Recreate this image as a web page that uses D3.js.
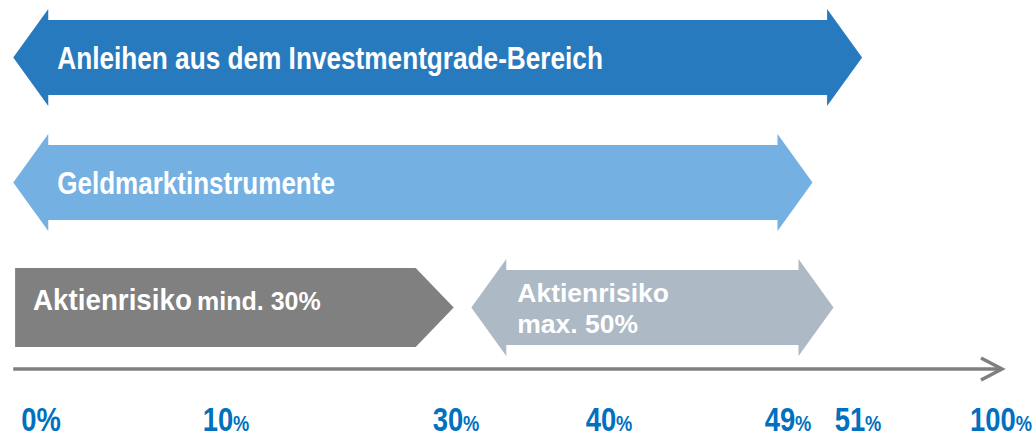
<!DOCTYPE html>
<html lang="en">
<head>
<meta charset="UTF-8">
<title>Anlagegrenzen</title>
<script src="https://d3js.org/d3.v7.min.js"></script>
<style>
  body { margin: 0; background: #fff; }
  svg { display: block; }
  text { font-family: "Liberation Sans", Arial, sans-serif; font-weight: bold; }
</style>
</head>
<body>
<svg id="chart" width="1033" height="434"></svg>
<script>
// tick values on the bottom axis
const tickValues = [0, 10, 30, 40, 49, 51, 100];
const tickSmallPct = [false, true, true, true, true, true, true]; // "%" set smaller except at 0

// bands: label, start / end (percent, read at arrow tips), shape type
const bandNames = ["Anleihen aus dem Investmentgrade-Bereich", "Geldmarktinstrumente", "Aktienrisiko mind. 30%", "Aktienrisiko max. 50%"];
const bandStart = [-1.5, -1.5, -1.4, 31.0];
const bandEnd   = [52.4, 49.7, 29.8, 50.3];
const bandRow   = [0, 1, 2, 2];
const bandShape = ["double", "double", "pentagon", "double"];
const bandColor = ["#287abe", "#75b0e3", "#808080", "#adb9c5"];

const svg = d3.select('#chart');

// piecewise x scale (ticks are not evenly spaced in the picture)
const x = d3.scaleLinear()
    .domain(tickValues)
    .range([41, 226, 456, 609, 788, 858, 1001]);

const y = d3.scalePoint()
    .domain([0, 1, 2])
    .range([57.5, 307.5]);

function doubleArrow(x0, x1, cy, h, d, o) {
    const p = d3.path();
    p.moveTo(x0, cy);
    p.lineTo(x0 + d, cy - h - o);
    p.lineTo(x0 + d, cy - h);
    p.lineTo(x1 - d, cy - h);
    p.lineTo(x1 - d, cy - h - o);
    p.lineTo(x1, cy);
    p.lineTo(x1 - d, cy + h + o);
    p.lineTo(x1 - d, cy + h);
    p.lineTo(x0 + d, cy + h);
    p.lineTo(x0 + d, cy + h + o);
    p.closePath();
    return p.toString();
}

function pentagon(x0, x1, cy, h, d) {
    const p = d3.path();
    p.moveTo(x0, cy - h);
    p.lineTo(x1 - d, cy - h);
    p.lineTo(x1, cy);
    p.lineTo(x1 - d, cy + h);
    p.lineTo(x0, cy + h);
    p.closePath();
    return p.toString();
}

// text that is a bit condensed, like the narrow font of the original
function condensed(parent, tx, ty, sx) {
    return parent.append('g')
        .attr('transform', `translate(${tx},${ty}) scale(${sx},1)`)
        .append('text');
}

const bands = bandNames.map((name, i) => ({
    name, start: bandStart[i], end: bandEnd[i], row: bandRow[i], shape: bandShape[i], color: bandColor[i]
}));

svg.selectAll('path.band')
    .data(bands)
    .join('path')
    .attr('class', 'band')
    .attr('fill', d => d.color)
    .attr('d', d => d.shape === 'double'
        ? doubleArrow(x(d.start), x(d.end), y(d.row), 37.5, 35, 11)
        : pentagon(x(d.start), x(d.end), y(d.row), 39.5, 38));

// labels inside the arrows
const lbl = svg.append('g').attr('fill', '#fff');

condensed(lbl, x(bands[0].start) + 44, y(0) + 11, 0.845)
    .attr('font-size', 31)
    .text(bands[0].name);

condensed(lbl, x(bands[1].start) + 44, y(1) + 11.5, 0.84)
    .attr('font-size', 31)
    .text(bands[1].name);

condensed(lbl, x(bands[2].start) + 18, y(2) + 2.5, 0.925)
    .attr('font-size', 30)
    .text('Aktienrisiko');
lbl.append('text')
    .attr('x', x(bands[2].start) + 182)
    .attr('y', y(2) + 2.5)
    .attr('font-size', 25)
    .text('mind. 30%');

const t4 = lbl.append('text')
    .attr('font-size', 26.5);
t4.append('tspan').attr('x', x(bands[3].start) + 46).attr('y', y(2) - 5.5).text('Aktienrisiko');
t4.append('tspan').attr('x', x(bands[3].start) + 46).attr('y', y(2) + 25.5).text('max. 50%');

// axis line with open arrow head
const axisY = 369;
svg.append('line')
    .attr('x1', x(bandStart[0])).attr('x2', x(100))
    .attr('y1', axisY).attr('y2', axisY)
    .attr('stroke', '#7f7f7f').attr('stroke-width', 3.5);
svg.append('polyline')
    .attr('points', [[x(100) - 20, axisY - 11], [x(100) + 1, axisY], [x(100) - 20, axisY + 11]].join(' '))
    .attr('fill', 'none').attr('stroke', '#7f7f7f').attr('stroke-width', 3.5);

// tick labels
const ticks = svg.selectAll('g.tick')
    .data(tickValues)
    .join('g')
    .attr('class', 'tick')
    .attr('transform', d => `translate(${x(d)},431) scale(0.83,1)`)
    .append('text')
    .attr('text-anchor', 'middle')
    .attr('fill', '#0070c0')
    .attr('font-size', 33);
ticks.append('tspan').text(d => d);
ticks.append('tspan')
    .attr('font-size', (d, i) => tickSmallPct[i] ? 22 : 33)
    .text('%');
</script>
</body>
</html>
